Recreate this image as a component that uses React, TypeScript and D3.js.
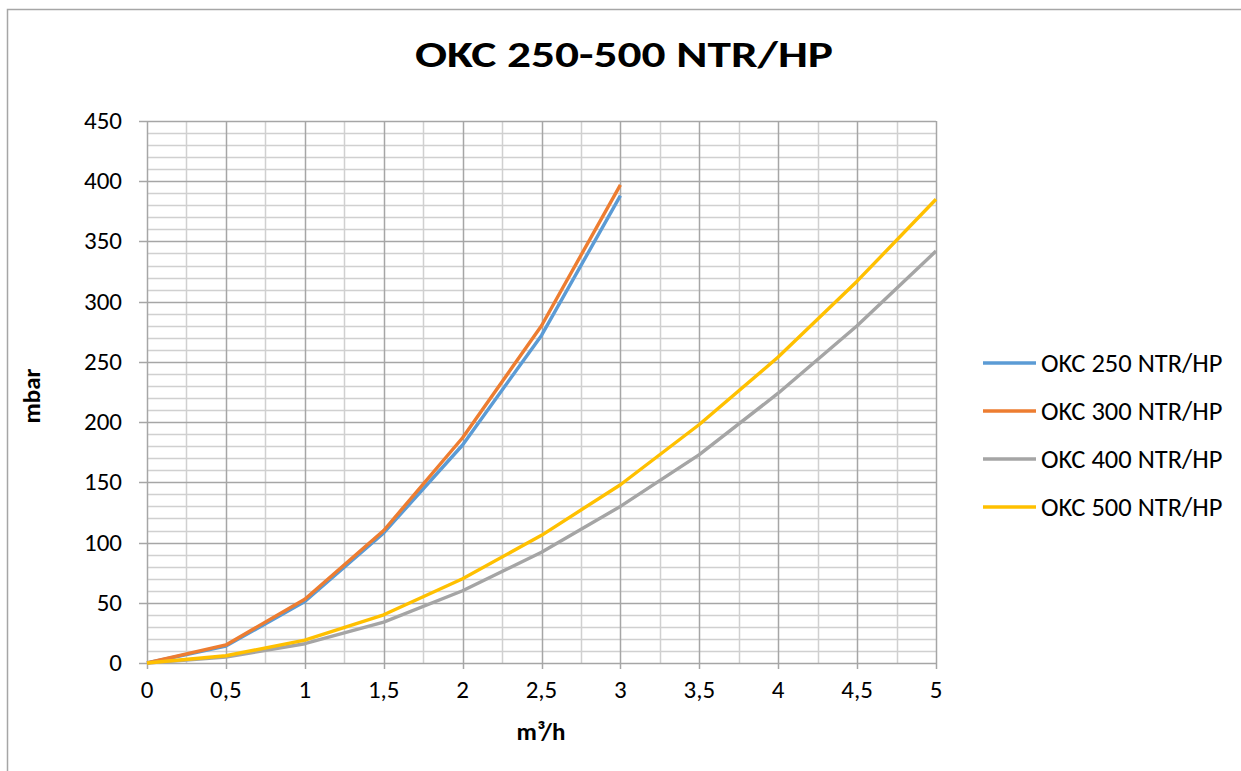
import React, { useEffect, useRef } from "react";
import * as d3 from "d3";

const flow = [0, 0.5, 1, 1.5, 2, 2.5, 3, 3.5, 4, 4.5, 5];
const okc250 = [0, 14, 51, 108, 181, 272, 388];
const okc300 = [0, 15, 53, 110, 187, 280, 397];
const okc400 = [0, 5, 16, 34, 60, 92, 130, 173, 224, 280, 342];
const okc500 = [0, 6, 19, 40, 70, 106, 148, 198, 254, 317, 385];
const seriesNames = ["OKC 250 NTR/HP", "OKC 300 NTR/HP", "OKC 400 NTR/HP", "OKC 500 NTR/HP"];
const seriesColors = ["#5B9BD5", "#ED7D31", "#A5A5A5", "#FFC000"];
const xTicks = [0, 0.5, 1, 1.5, 2, 2.5, 3, 3.5, 4, 4.5, 5];
const yTicks = [0, 50, 100, 150, 200, 250, 300, 350, 400, 450];

const FONT = "Carlito, Calibri, Lato, sans-serif";

const App = () => {
    const svgRef = useRef<SVGSVGElement>(null);

    useEffect(() => {
        const width = 1241;
        const height = 771;
        const svg = d3.select(svgRef.current).attr("width", width).attr("height", height);
        svg.selectAll("*").remove();

        svg.append("rect").attr("width", width).attr("height", height).attr("fill", "#fff");
        svg.append("rect")
            .attr("x", 7.5).attr("y", 9.5)
            .attr("width", width).attr("height", height)
            .attr("fill", "none").attr("stroke", "#A6A6A6").attr("stroke-width", 1.5);

        const x = d3.scaleLinear().domain([0, 5]).range([147, 936]);
        const y = d3.scaleLinear().domain([0, 450]).range([663, 121]);

        const g = svg.append("g");

        // minor grid
        d3.range(0, 451, 10).filter((v) => v % 50 !== 0).forEach((v) => {
            g.append("line")
                .attr("x1", x(0)).attr("x2", x(5))
                .attr("y1", Math.round(y(v)) + 0.5).attr("y2", Math.round(y(v)) + 0.5)
                .attr("stroke", "#D0D0D0").attr("stroke-width", 1.5);
        });
        d3.range(0.25, 5, 0.5).forEach((v) => {
            g.append("line")
                .attr("x1", Math.round(x(v)) + 0.5).attr("x2", Math.round(x(v)) + 0.5)
                .attr("y1", y(0)).attr("y2", y(450))
                .attr("stroke", "#D0D0D0").attr("stroke-width", 1.5);
        });
        // major grid + tick marks
        yTicks.forEach((v) => {
            g.append("line")
                .attr("x1", x(0) - 8).attr("x2", x(5))
                .attr("y1", Math.round(y(v)) + 0.5).attr("y2", Math.round(y(v)) + 0.5)
                .attr("stroke", "#A6A6A6").attr("stroke-width", 1.5);
        });
        xTicks.forEach((v) => {
            g.append("line")
                .attr("x1", Math.round(x(v)) + 0.5).attr("x2", Math.round(x(v)) + 0.5)
                .attr("y1", y(0) + 6).attr("y2", y(450))
                .attr("stroke", "#A6A6A6").attr("stroke-width", 1.5);
        });

        // tick labels
        g.selectAll(".ylab").data(yTicks).enter().append("text")
            .attr("x", 122).attr("y", (d) => y(d) + 8)
            .attr("text-anchor", "end")
            .attr("font-family", FONT).attr("font-size", 25)
            .text((d) => d);
        g.selectAll(".xlab").data(xTicks).enter().append("text")
            .attr("x", (d) => x(d)).attr("y", 698)
            .attr("text-anchor", "middle")
            .attr("font-family", FONT).attr("font-size", 25)
            .text((d) => String(d).replace(".", ","));

        // lines
        const allSeries = [okc250, okc300, okc400, okc500];
        const line = d3.line<number>().x((d, i) => x(flow[i])).y((d) => y(d));
        allSeries.forEach((s, i) => {
            g.append("path")
                .attr("d", line(s))
                .attr("fill", "none")
                .attr("stroke", seriesColors[i])
                .attr("stroke-width", 3.4)
                .attr("stroke-linejoin", "round");
        });

        // title & axis titles
        svg.append("text")
            .attr("x", 415).attr("y", 67)
            .attr("textLength", 418).attr("lengthAdjust", "spacingAndGlyphs")
            .attr("font-family", FONT).attr("font-weight", "bold").attr("font-size", 37)
            .text("OKC 250-500 NTR/HP");
        svg.append("text")
            .attr("transform", "translate(40,396) rotate(-90)")
            .attr("text-anchor", "middle")
            .attr("font-family", FONT).attr("font-weight", "bold").attr("font-size", 25)
            .text("mbar");
        svg.append("text")
            .attr("x", 541).attr("y", 740)
            .attr("text-anchor", "middle")
            .attr("font-family", FONT).attr("font-weight", "bold").attr("font-size", 25)
            .text("m³/h");

        // legend
        const legend = svg.append("g");
        seriesNames.forEach((name, i) => {
            const ly = 363 + i * 48;
            legend.append("line")
                .attr("x1", 983).attr("x2", 1036)
                .attr("y1", ly).attr("y2", ly)
                .attr("stroke", seriesColors[i]).attr("stroke-width", 3.4);
            legend.append("text")
                .attr("x", 1041).attr("y", ly + 9)
                .attr("font-family", FONT).attr("font-size", 26.5)
                .text(name);
        });
    }, []);

    return <svg ref={svgRef} style={{ position: "absolute", left: 0, top: 0, display: "block" }}></svg>;
};

export default App;
